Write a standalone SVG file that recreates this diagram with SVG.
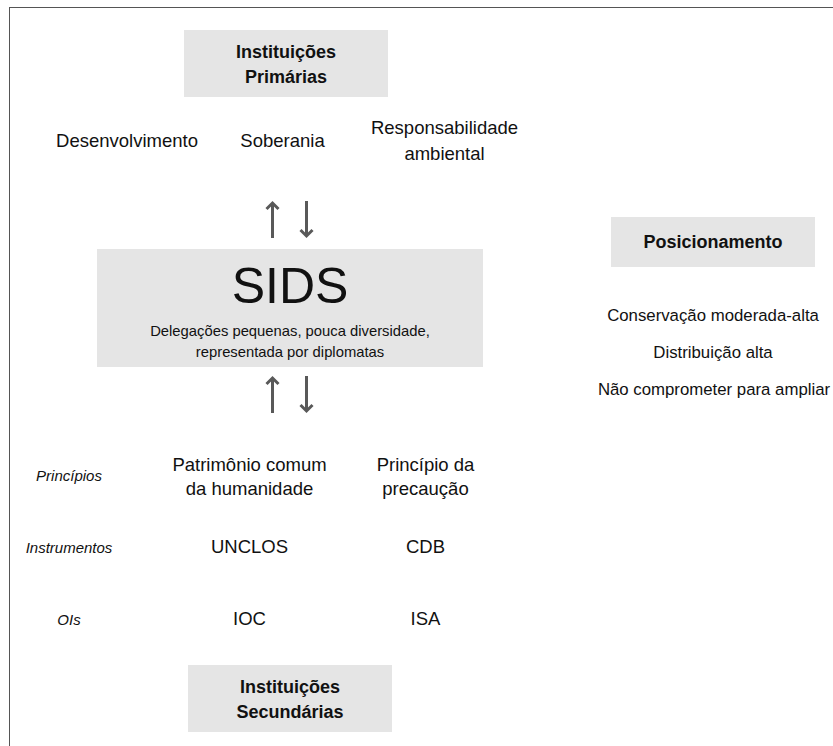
<svg xmlns="http://www.w3.org/2000/svg" width="833" height="746" viewBox="0 0 833 746">
<defs>
<marker id="ah" viewBox="-2 -2 14 16" refX="6" refY="6" markerWidth="14" markerHeight="16" orient="auto" markerUnits="userSpaceOnUse">
<path d="M0,0 L6,6 L0,12" fill="none" stroke="#595959" stroke-width="3"/>
</marker>
<style>
text{font-family:"Liberation Sans",Arial,sans-serif;fill:#111;text-anchor:middle}
.box{fill:#e5e5e5}
.b{font-weight:bold;font-size:18px}
.n{font-size:18.5px}
.s{font-size:16.8px}
.sub{font-size:14.8px}
.i{font-style:italic;font-size:15px}
.arr{stroke:#595959;stroke-width:3;fill:none}
</style>
</defs>
<rect width="833" height="746" fill="#fff"/>
<g id="frame">
<line x1="9" y1="7.5" x2="833" y2="7.5" stroke="#555" stroke-width="1"/>
<line x1="9.5" y1="7" x2="9.5" y2="746" stroke="#555" stroke-width="1"/>
</g>
<g id="primarias">
<rect class="box" x="184" y="30" width="204" height="67"/>
<text class="b" x="286" y="58">Instituições</text>
<text class="b" x="286" y="83">Primárias</text>
</g>
<g id="desenvolvimento"><text class="n" x="127" y="147">Desenvolvimento</text></g>
<g id="soberania"><text class="n" x="282.5" y="147">Soberania</text></g>
<g id="responsabilidade">
<text class="n" x="444.5" y="134">Responsabilidade</text>
<text class="n" x="444.5" y="160">ambiental</text>
</g>
<g id="sids">
<rect class="box" x="97" y="249" width="386" height="118"/>
<text x="290" y="303" style="font-size:50px">SIDS</text>
<text class="sub" x="290" y="336">Delegações pequenas, pouca diversidade,</text>
<text class="sub" x="290" y="357">representada por diplomatas</text>
</g>
<g id="posicionamento">
<rect class="box" x="611" y="217" width="204" height="50"/>
<text class="b" x="713" y="248">Posicionamento</text>
</g>
<g id="pos-items">
<text class="s" x="713" y="321">Conservação moderada-alta</text>
<text class="s" x="713" y="358">Distribuição alta</text>
<text class="s" x="714" y="395">Não comprometer para ampliar</text>
</g>
<g id="labels">
<text class="i" x="69" y="481">Princípios</text>
<text class="i" x="69" y="553">Instrumentos</text>
<text class="i" x="69" y="625">OIs</text>
</g>
<g id="patrimonio">
<text class="n" x="249.5" y="471">Patrimônio comum</text>
<text class="n" x="249.5" y="495">da humanidade</text>
</g>
<g id="precaucao">
<text class="n" x="425.5" y="471">Princípio da</text>
<text class="n" x="425.5" y="495">precaução</text>
</g>
<g id="unclos"><text class="n" x="249.5" y="553">UNCLOS</text></g>
<g id="cdb"><text class="n" x="425.5" y="553">CDB</text></g>
<g id="ioc"><text class="n" x="249.5" y="625">IOC</text></g>
<g id="isa"><text class="n" x="425.5" y="625">ISA</text></g>
<g id="secundarias">
<rect class="box" x="188" y="665" width="204" height="67"/>
<text class="b" x="290" y="693">Instituições</text>
<text class="b" x="290" y="718">Secundárias</text>
</g>
<g id="connectors">
<line class="arr" x1="272.5" y1="238" x2="272.5" y2="203" marker-end="url(#ah)"/>
<line class="arr" x1="306.5" y1="201" x2="306.5" y2="236" marker-end="url(#ah)"/>
<line class="arr" x1="272.5" y1="413" x2="272.5" y2="378" marker-end="url(#ah)"/>
<line class="arr" x1="306.5" y1="376" x2="306.5" y2="411" marker-end="url(#ah)"/>
</g>
</svg>
